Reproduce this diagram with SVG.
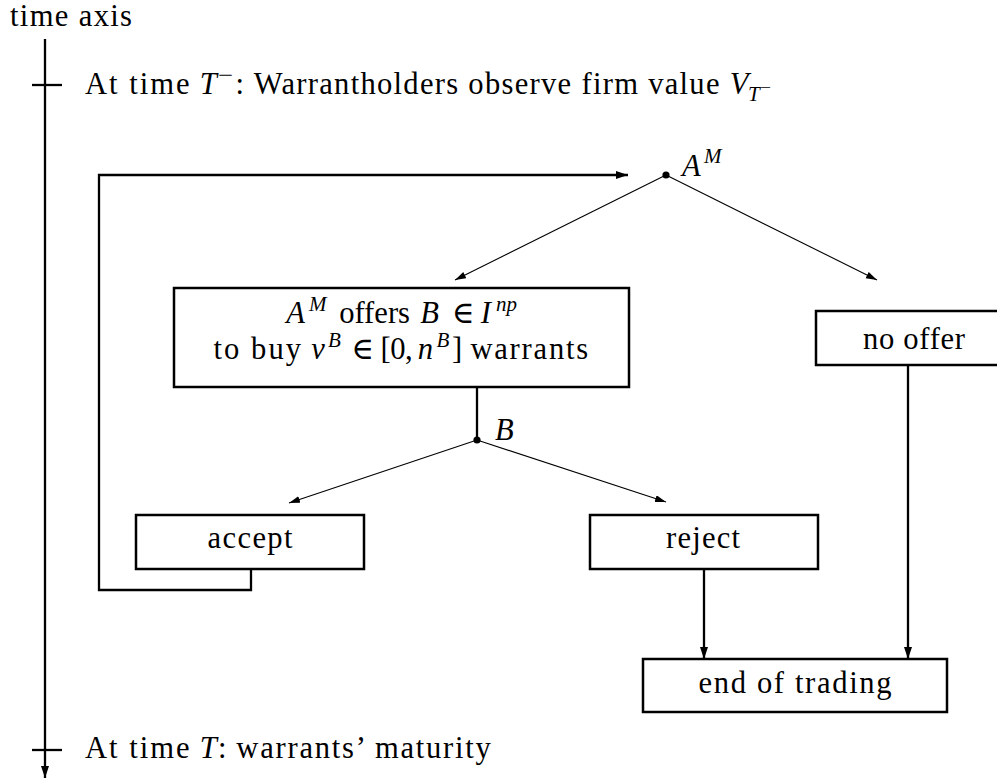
<svg xmlns="http://www.w3.org/2000/svg" width="997" height="781" viewBox="0 0 997 781" font-family="'Liberation Serif','Times New Roman',serif">
<style>
.t{font-family:"Liberation Serif","Times New Roman","DejaVu Serif",serif;font-size:30.6px;fill:#000}
.i{font-style:italic}
.s{font-size:21px}
.ss{font-size:15.3px}
.box{fill:#fff;stroke:#000;stroke-width:2.5}
.thin{fill:none;stroke:#000;stroke-width:1.1}
.thick{fill:none;stroke:#000;stroke-width:2.3}
.m{text-anchor:middle}
</style>
<defs>
<marker id="ah" markerUnits="userSpaceOnUse" markerWidth="12" markerHeight="9" refX="11" refY="3.5" orient="auto"><path d="M0,0 L11,3.5 L0,7 z" fill="#000"/></marker>
<marker id="ahk" markerUnits="userSpaceOnUse" markerWidth="13" markerHeight="10" refX="12" refY="4" orient="auto"><path d="M0,0 L12,4 L0,8 z" fill="#000"/></marker>
</defs>
<rect width="997" height="781" fill="#fff"/>

<g id="axis">
<text class="t" x="10" y="26" textLength="122">time axis</text>
<line class="thick" x1="45" y1="39" x2="45" y2="778" stroke-width="2" marker-end="url(#ahk)"/>
<line class="thick" x1="32" y1="85" x2="62" y2="85" stroke-width="2"/>
<line class="thick" x1="32" y1="750" x2="62" y2="750" stroke-width="2"/>
<text class="t" x="85" y="94" textLength="104.5">At time</text>
<text class="t i" x="199.7" y="94">T</text>
<text class="t s" x="218" y="82" textLength="15" lengthAdjust="spacingAndGlyphs">−</text>
<text class="t" x="235.5" y="94">:</text>
<text class="t" x="253.7" y="94" textLength="465.8">Warrantholders observe firm value</text>
<text class="t i" x="729.7" y="94">V</text>
<text class="t i s" x="748" y="101">T</text>
<text class="t ss" x="760" y="93" textLength="11" lengthAdjust="spacingAndGlyphs">−</text>
<text class="t" x="85" y="758" textLength="104.5">At time</text>
<text class="t i" x="199.7" y="758">T</text>
<text class="t" x="218" y="758">:</text>
<text class="t" x="236.3" y="758" textLength="254.6">warrants’ maturity</text>
</g>

<g id="connectors">
<path class="thick" d="M251,569 V590 H99 V175 H628" marker-end="url(#ahk)"/>
<line class="thin" x1="666" y1="175" x2="455" y2="280" marker-end="url(#ah)"/>
<line class="thin" x1="666" y1="175" x2="877" y2="280" marker-end="url(#ah)"/>
<line class="thick" x1="477" y1="387" x2="477" y2="440"/>
<line class="thin" x1="477" y1="440" x2="289" y2="503" marker-end="url(#ah)"/>
<line class="thin" x1="477" y1="440" x2="666" y2="502" marker-end="url(#ah)"/>
<line class="thick" x1="704" y1="569" x2="704" y2="659" marker-end="url(#ahk)"/>
<line class="thick" x1="908" y1="365" x2="908" y2="659" marker-end="url(#ahk)"/>
</g>

<g id="node-AM">
<circle cx="666" cy="175" r="3.6" fill="#000"/>
<text class="t i" x="682" y="176">A</text>
<text class="t i s" x="704" y="163">M</text>
</g>

<g id="node-offer">
<rect class="box" x="174" y="288" width="455" height="99"/>
<text class="t i" x="286.2" y="323">A</text>
<text class="t i s" x="309" y="311">M</text>
<text class="t" x="339.2" y="323" textLength="70.8">offers</text>
<text class="t i" x="420.2" y="323">B</text>
<text class="t" x="451.9" y="323">∈</text>
<text class="t i" x="480.8" y="323">I</text>
<text class="t i s" x="496" y="311">np</text>
<text class="t" x="213.5" y="359" textLength="87.6">to buy</text>
<text class="t i" x="311.3" y="359">ν</text>
<text class="t i s" x="328" y="347">B</text>
<text class="t" x="351.5" y="359">∈</text>
<text class="t" x="380.4" y="359" textLength="32.3">[0,</text>
<text class="t i" x="417.8" y="359">n</text>
<text class="t i s" x="436.5" y="347">B</text>
<text class="t" x="452" y="359">]</text>
<text class="t" x="470.4" y="359" textLength="117.7">warrants</text>
</g>

<g id="node-B">
<circle cx="477" cy="440" r="3.6" fill="#000"/>
<text class="t i" x="495" y="440">B</text>
</g>

<g id="node-accept">
<rect class="box" x="136" y="515" width="228" height="54"/>
<text class="t m" x="250" y="548" textLength="85">accept</text>
</g>

<g id="node-reject">
<rect class="box" x="590" y="515" width="228" height="54"/>
<text class="t m" x="703" y="548" textLength="74">reject</text>
</g>

<g id="node-nooffer">
<rect class="box" x="816" y="311" width="196" height="54"/>
<text class="t m" x="914" y="349" textLength="102">no offer</text>
</g>

<g id="node-end">
<rect class="box" x="643" y="659" width="304" height="53"/>
<text class="t m" x="795" y="693" textLength="193">end of trading</text>
</g>
</svg>
